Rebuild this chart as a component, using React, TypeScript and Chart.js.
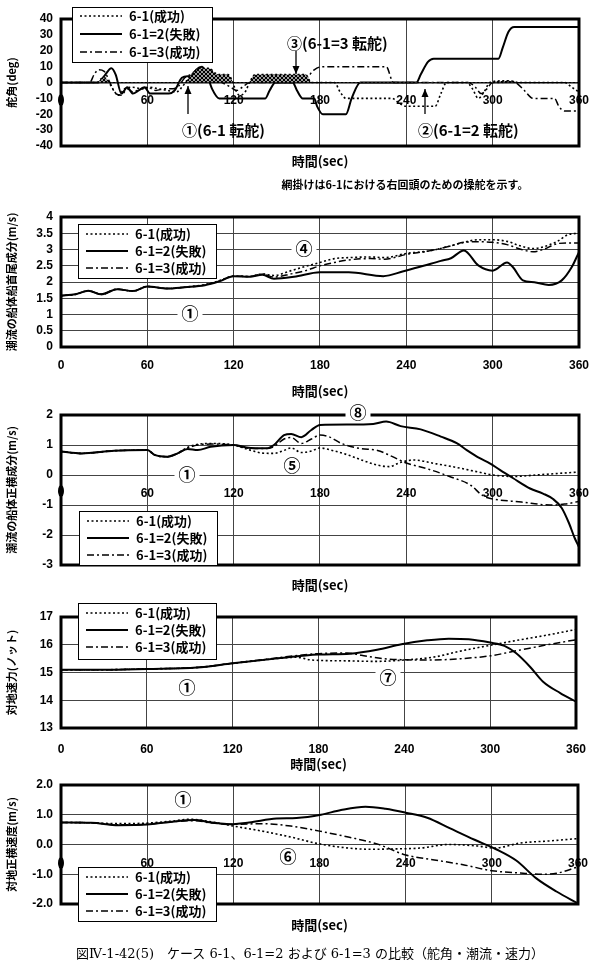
import React, { useEffect, useRef } from 'react';
import { Chart, registerables } from 'chart.js';
Chart.register(...registerables);

const LATIN = '"Liberation Sans", Arial, sans-serif';
const CJK = '"Noto Sans CJK JP", "Noto Sans", sans-serif';

// ---------- Panel 1: rudder angle (deg) ----------
const rudder61T = [0, 25, 29, 32, 36, 40, 44, 50, 56, 62, 68, 74, 80, 84, 88, 92, 96, 103, 107, 110, 116, 119, 121, 124, 128, 131, 135, 170, 174, 190, 194, 198, 230, 235, 240, 260, 264, 268, 282, 286, 290, 294, 298, 306, 312, 318, 350, 355, 360];
const rudder61V = [0, 0, 3, 2, -4, -8, -4, -3, -4, -3, -4, -5, -6, -3, 2, 6, 9, 9, 6, 5, 5, 1, -4, -8, -6, 0, 5, 5, 0, 0, -6, -10, -10, -13, -15, -15, -7, 0, 0, -4, -10, -6, 0, 1, 1, 0, 0, -3, -6];
const rudder612T = [0, 26, 30, 35, 38, 42, 46, 50, 54, 58, 62, 75, 79, 84, 88, 91, 94, 98, 101, 105, 110, 142, 145, 149, 161, 164, 168, 176, 178, 182, 198, 202, 208, 247, 250, 255, 259, 304, 307, 311, 315, 360];
const rudder612V = [0, 0, 4, 9, 5, -7, -3, -7, -5, -3, -7, -7, -5, 3, 4, 4, 8, 10, 6, -4, -10, -10, -5, 0, 0, -5, -10, -10, -15, -20, -20, -10, 0, 0, 5, 13, 15, 15, 22, 32, 35, 35];
const rudder613T = [0, 20, 23, 26, 30, 34, 38, 42, 46, 50, 55, 60, 66, 72, 78, 82, 86, 90, 95, 100, 106, 112, 118, 122, 126, 131, 168, 172, 176, 182, 226, 231, 283, 288, 292, 296, 300, 306, 312, 316, 322, 328, 343, 346, 350, 360];
const rudder613V = [0, 0, 5, 8, 7, 0, -7, -8, -4, -6, -4, -3, -5, -4, -4, -2, 3, 5, 8, 7, 3, 0, -3, -5, -3, 0, 0, 4, 8, 10, 10, 0, 0, -3, -7, -4, 0, 0, 1, 0, -5, -10, -10, -15, -18, -18];

// ---------- Panel 2: current, fore-aft component (m/s) ----------
const along612T = [0, 10, 19, 28, 39, 50, 60, 74, 86, 100, 110, 120, 131, 140, 148, 162, 180, 200, 224, 238, 252, 264, 271, 280, 290, 300, 310, 314, 321, 329, 339, 348, 355, 360];
const along612V = [1.58, 1.62, 1.73, 1.62, 1.78, 1.72, 1.86, 1.8, 1.84, 1.9, 2.02, 2.18, 2.16, 2.22, 2.1, 2.16, 2.3, 2.3, 2.18, 2.33, 2.5, 2.65, 2.73, 2.97, 2.51, 2.35, 2.6, 2.46, 2.05, 1.99, 1.91, 2.05, 2.46, 2.92];
const along61T = [0, 10, 19, 28, 39, 50, 60, 74, 86, 100, 110, 120, 131, 140, 148, 160, 170, 180, 190, 200, 215, 225, 240, 255, 270, 280, 290, 300, 310, 320, 328, 335, 345, 352, 360];
const along61V = [1.58, 1.62, 1.73, 1.62, 1.78, 1.72, 1.86, 1.8, 1.84, 1.92, 2.04, 2.18, 2.17, 2.25, 2.2, 2.35, 2.48, 2.6, 2.72, 2.75, 2.77, 2.75, 2.88, 2.95, 3.1, 3.22, 3.3, 3.3, 3.25, 3.1, 3.03, 3.08, 3.25, 3.45, 3.5];
const along613T = [0, 10, 19, 28, 39, 50, 60, 74, 86, 100, 110, 120, 131, 140, 148, 160, 170, 180, 190, 200, 215, 225, 240, 255, 270, 280, 290, 300, 310, 320, 328, 335, 345, 352, 360];
const along613V = [1.58, 1.62, 1.73, 1.62, 1.78, 1.72, 1.86, 1.8, 1.84, 1.91, 2.03, 2.18, 2.17, 2.24, 2.15, 2.25, 2.35, 2.5, 2.6, 2.68, 2.72, 2.7, 2.85, 2.95, 3.1, 3.22, 3.24, 3.22, 3.15, 3.0, 2.93, 3.0, 3.18, 3.2, 3.2];

// ---------- Panel 3: current, athwartship component (m/s) ----------
const athw612T = [0, 14, 37, 60, 65, 74, 81, 88, 95, 104, 120, 129, 143, 148, 155, 160, 167, 174, 180, 200, 217, 226, 236, 250, 264, 275, 282, 291, 298, 305, 314, 326, 335, 342, 348, 353, 357, 360];
const athw612V = [0.78, 0.72, 0.81, 0.83, 0.67, 0.61, 0.72, 0.87, 0.83, 0.94, 1.0, 0.92, 0.89, 1.0, 1.33, 1.37, 1.26, 1.5, 1.67, 1.68, 1.7, 1.78, 1.63, 1.52, 1.28, 1.06, 0.83, 0.56, 0.39, 0.17, -0.1, -0.45, -0.62, -0.8, -1.1, -1.6, -2.1, -2.4];
const athw61T = [0, 14, 37, 60, 65, 74, 81, 88, 95, 104, 120, 130, 140, 148, 155, 160, 167, 174, 180, 190, 200, 210, 220, 228, 236, 245, 260, 275, 290, 300, 315, 330, 345, 360];
const athw61V = [0.78, 0.72, 0.81, 0.83, 0.67, 0.61, 0.72, 0.92, 1.02, 1.05, 1.0, 0.85, 0.73, 0.72, 0.82, 0.9, 0.75, 0.8, 0.9, 0.8, 0.66, 0.48, 0.33, 0.28, 0.42, 0.5, 0.38, 0.25, 0.1, 0.0, -0.05, 0.0, 0.05, 0.1];
const athw613T = [0, 14, 37, 60, 65, 74, 81, 88, 95, 104, 120, 129, 143, 148, 155, 160, 167, 174, 180, 186, 195, 208, 220, 230, 240, 255, 270, 285, 292, 296, 300, 320, 340, 350, 360];
const athw613V = [0.78, 0.72, 0.81, 0.83, 0.67, 0.61, 0.72, 0.9, 1.0, 1.03, 1.0, 0.9, 0.88, 0.95, 1.2, 1.25, 1.05, 1.2, 1.33, 1.28, 1.05, 0.88, 0.82, 0.62, 0.4, 0.2, -0.05, -0.35, -0.65, -0.75, -0.8, -0.9, -1.0, -0.97, -0.88];

// ---------- Panel 4: speed over ground (knots) ----------
const sog612T = [0, 30, 60, 95, 120, 150, 180, 202, 221, 238, 256, 271, 285, 300, 310, 318, 328, 337, 349, 360];
const sog612V = [15.1, 15.1, 15.13, 15.18, 15.33, 15.5, 15.65, 15.68, 15.82, 16.02, 16.16, 16.22, 16.2, 16.08, 15.96, 15.7, 15.2, 14.67, 14.26, 13.95];
const sog61T = [0, 30, 60, 95, 120, 150, 165, 175, 200, 220, 240, 260, 280, 300, 320, 340, 360];
const sog61V = [15.1, 15.1, 15.13, 15.18, 15.33, 15.5, 15.55, 15.45, 15.42, 15.4, 15.45, 15.55, 15.78, 15.98, 16.17, 16.35, 16.55];
const sog613T = [0, 30, 60, 95, 120, 150, 180, 200, 210, 225, 240, 260, 280, 300, 320, 340, 360];
const sog613V = [15.1, 15.1, 15.13, 15.18, 15.33, 15.52, 15.68, 15.7, 15.62, 15.5, 15.46, 15.45, 15.5, 15.6, 15.8, 16.0, 16.18];

// ---------- Panel 5: athwartship velocity over ground (m/s) ----------
const lat612T = [0, 21, 40, 60, 76, 93, 105, 117, 131, 150, 164, 181, 195, 212, 226, 240, 255, 271, 288, 303, 317, 331, 345, 360];
const lat612V = [0.74, 0.73, 0.65, 0.67, 0.76, 0.82, 0.74, 0.68, 0.74, 0.87, 0.89, 1.0, 1.16, 1.27, 1.2, 1.07, 0.9, 0.54, 0.16, -0.16, -0.54, -1.14, -1.58, -1.98];
const lat61T = [0, 21, 40, 60, 76, 90, 100, 120, 140, 160, 180, 200, 215, 230, 250, 270, 290, 302, 320, 340, 360];
const lat61V = [0.74, 0.73, 0.7, 0.72, 0.78, 0.85, 0.8, 0.62, 0.45, 0.25, 0.02, -0.12, -0.16, -0.15, -0.12, 0.0, -0.05, -0.12, 0.05, 0.12, 0.2];
const lat613T = [0, 21, 40, 60, 76, 93, 105, 120, 140, 160, 180, 200, 220, 240, 260, 280, 300, 320, 335, 345, 360];
const lat613V = [0.74, 0.73, 0.66, 0.68, 0.76, 0.8, 0.72, 0.68, 0.7, 0.62, 0.45, 0.25, 0.02, -0.35, -0.52, -0.68, -0.88, -0.96, -1.0, -0.97, -0.75];

const SERIES_LABELS = ['6-1(成功)', '6-1=2(失敗)', '6-1=3(成功)'];
const X_TICKS = [0, 60, 120, 180, 240, 300, 360];

const STYLES = [
  { dash: [2, 2.5], width: 1.6 },
  { dash: [] as number[], width: 2 },
  { dash: [7, 3, 2, 3], width: 1.5 },
];

type Note = { text: string; x: number; y: number; bg?: boolean; align?: CanvasTextAlign; size?: number };
type Panel = {
  key: string;
  yTitle: string;
  yMin: number; yMax: number; yStep: number;
  yFixed?: number;
  top: number; bottom: number;
  atZero: boolean;
  tickPad: number;
  axisH?: number;
  onlyZeroGrid?: boolean;
  xTitleY: number;
  blobY?: number;
  series: { t: number[]; v: number[] }[];
  hatch?: boolean;
  legend: { x: number; y: number; w: number; h: number; rows: number[] };
  notes: Note[];
  arrows?: { x: number; y1: number; y2: number }[];
};

const PANELS: Panel[] = [
  {
    key: 'p1', yTitle: '舵角(deg)', yMin: -40, yMax: 40, yStep: 10, top: 19, bottom: 146,
    atZero: true, tickPad: 11, onlyZeroGrid: true, xTitleY: 161, blobY: 100, hatch: true,
    series: [{ t: rudder61T, v: rudder61V }, { t: rudder612T, v: rudder612V }, { t: rudder613T, v: rudder613V }],
    legend: { x: 72, y: 7, w: 140, h: 55, rows: [16, 34, 52] },
    notes: [
      { text: '③(6-1=3 転舵)', x: 287, y: 43, align: 'left', size: 15 },
      { text: '①(6-1 転舵)', x: 182, y: 130, align: 'left', size: 15 },
      { text: '②(6-1=2 転舵)', x: 418, y: 130, align: 'left', size: 15 },
    ],
    arrows: [{ x: 296, y1: 51, y2: 74 }, { x: 188, y1: 114, y2: 86 }, { x: 425, y1: 114, y2: 89 }],
  },
  {
    key: 'p2', yTitle: '潮流の船体船首尾成分(m/s)', yMin: 0, yMax: 4, yStep: 0.5, top: 217, bottom: 347,
    atZero: false, tickPad: 11, axisH: 27, xTitleY: 391,
    series: [{ t: along61T, v: along61V }, { t: along612T, v: along612V }, { t: along613T, v: along613V }],
    legend: { x: 78, y: 224, w: 138, h: 54, rows: [234, 251, 268] },
    notes: [{ text: '④', x: 304, y: 249, bg: true, size: 17 }, { text: '①', x: 190, y: 314, bg: true, size: 17 }],
  },
  {
    key: 'p3', yTitle: '潮流の船体正横成分(m/s)', yMin: -3, yMax: 2, yStep: 1, top: 415, bottom: 565,
    atZero: true, tickPad: 11, xTitleY: 585, blobY: 491,
    series: [{ t: athw61T, v: athw61V }, { t: athw612T, v: athw612V }, { t: athw613T, v: athw613V }],
    legend: { x: 79, y: 511, w: 138, h: 54, rows: [521, 538, 555] },
    notes: [
      { text: '⑧', x: 358, y: 413, bg: true, size: 17 },
      { text: '①', x: 187, y: 475, bg: true, size: 17 },
      { text: '⑤', x: 292, y: 466, size: 17 },
    ],
  },
  {
    key: 'p4', yTitle: '対地速力(ノット)', yMin: 13, yMax: 17, yStep: 1, top: 617, bottom: 728,
    atZero: false, tickPad: 14, axisH: 30, xTitleY: 764,
    series: [{ t: sog61T, v: sog61V }, { t: sog612T, v: sog612V }, { t: sog613T, v: sog613V }],
    legend: { x: 78, y: 603, w: 138, h: 56, rows: [613, 630, 647] },
    notes: [{ text: '①', x: 187, y: 688, size: 17 }, { text: '⑦', x: 388, y: 678, bg: true, size: 17 }],
  },
  {
    key: 'p5', yTitle: '対地正横速度(m/s)', yMin: -2, yMax: 2, yStep: 1, yFixed: 1, top: 785, bottom: 904,
    atZero: true, tickPad: 12, xTitleY: 925, blobY: 863,
    series: [{ t: lat61T, v: lat61V }, { t: lat612T, v: lat612V }, { t: lat613T, v: lat613V }],
    legend: { x: 78, y: 867, w: 138, h: 54, rows: [877, 894, 911] },
    notes: [{ text: '①', x: 183, y: 800, size: 17 }, { text: '⑥', x: 288, y: 857, size: 17 }],
  },
];

function hatchPattern(ctx: CanvasRenderingContext2D) {
  const c = document.createElement('canvas');
  c.width = 4; c.height = 4;
  const g = c.getContext('2d')!;
  g.fillStyle = '#9a9a9a';
  g.fillRect(0, 0, 4, 4);
  g.fillStyle = '#000';
  for (let i = 0; i < 4; i++) { g.fillRect(i, i, 1, 1); g.fillRect(3 - i, i, 1, 1); }
  return ctx.createPattern(c, 'repeat');
}

function decor(p: Panel) {
  return {
    id: 'decor_' + p.key,
    afterDraw(chart: any) {
      const c: CanvasRenderingContext2D = chart.ctx;
      const a = chart.chartArea;
      c.save();
      c.setLineDash([]);
      c.strokeStyle = '#000';
      c.lineWidth = 3;
      c.strokeRect(a.left, a.top, a.right - a.left, a.bottom - a.top);
      if (p.blobY) {
        c.beginPath();
        c.ellipse(a.left, p.blobY, 3, 6, 0, 0, Math.PI * 2);
        c.fillStyle = '#000';
        c.fill();
      }
      c.fillStyle = '#000';
      c.font = `bold 13px ${CJK}`;
      c.textAlign = 'center';
      c.textBaseline = 'middle';
      c.fillText('時間(sec)', (a.left + a.right) / 2, p.xTitleY);
      for (const ar of p.arrows || []) {
        c.lineWidth = 1.3;
        c.beginPath();
        c.moveTo(ar.x, ar.y1);
        c.lineTo(ar.x, ar.y2);
        c.stroke();
        const dir = ar.y2 > ar.y1 ? 1 : -1;
        c.beginPath();
        c.moveTo(ar.x, ar.y2);
        c.lineTo(ar.x - 3.5, ar.y2 - dir * 8);
        c.lineTo(ar.x + 3.5, ar.y2 - dir * 8);
        c.closePath();
        c.fill();
      }
      for (const n of p.notes) {
        const size = n.size || 14;
        c.font = `bold ${size}px ${CJK}`;
        c.textAlign = n.align || 'center';
        c.textBaseline = 'middle';
        if (n.bg) {
          const w = c.measureText(n.text).width + 8;
          const x0 = (n.align === 'left') ? n.x - 4 : n.x - w / 2;
          c.fillStyle = '#fff';
          c.fillRect(x0, n.y - size / 2 - 1, w, size + 2);
        }
        c.fillStyle = '#000';
        c.fillText(n.text, n.x, n.y);
      }
      const L = p.legend;
      c.fillStyle = '#fff';
      c.fillRect(L.x, L.y, L.w, L.h);
      c.lineWidth = 1;
      c.strokeStyle = '#000';
      c.strokeRect(L.x + 0.5, L.y + 0.5, L.w, L.h);
      chart.data.datasets.forEach((ds: any, i: number) => {
        const ry = L.rows[i];
        c.setLineDash(ds.borderDash || []);
        c.lineWidth = ds.borderWidth;
        c.beginPath();
        c.moveTo(L.x + 8, ry);
        c.lineTo(L.x + 50, ry);
        c.stroke();
        c.setLineDash([]);
        c.fillStyle = '#000';
        c.font = `bold 13px ${CJK}`;
        c.textAlign = 'left';
        c.textBaseline = 'middle';
        c.fillText(ds.label, L.x + 57, ry);
      });
      c.restore();
    },
  };
}

function buildConfig(p: Panel, ctx: CanvasRenderingContext2D): any {
  const pattern = p.hatch ? hatchPattern(ctx) : null;
  const datasets = p.series.map((s, i) => ({
    label: SERIES_LABELS[i],
    data: s.t.map((t, k) => ({ x: t, y: s.v[k] })),
    borderColor: '#000',
    backgroundColor: 'rgba(0,0,0,0)',
    borderWidth: STYLES[i].width,
    borderDash: STYLES[i].dash,
    pointRadius: 0,
    cubicInterpolationMode: 'monotone',
    fill: (i === 0 && pattern) ? { target: 'origin', above: pattern, below: 'rgba(0,0,0,0)' } : false,
  }));
  const H = 979;
  const padBottom = p.atZero ? H - p.bottom : H - p.bottom - (p.axisH || 0);
  const tickFont = { family: LATIN, size: 12, weight: 'bold' as const };
  return {
    type: 'line',
    data: { datasets },
    options: {
      animation: false,
      responsive: false,
      devicePixelRatio: 1,
      layout: { padding: { top: p.top, left: 0, right: 19, bottom: padBottom } },
      plugins: { legend: { display: false }, tooltip: { enabled: false } },
      scales: {
        x: {
          type: 'linear',
          min: 0, max: 360,
          position: p.atZero ? { y: 0 } : 'bottom',
          afterBuildTicks: (s: any) => { s.ticks = X_TICKS.map((v) => ({ value: v })); },
          ticks: {
            autoSkip: false, maxRotation: 0, color: '#000', font: tickFont, padding: p.tickPad,
            callback: (v: number) => (p.atZero && v === 0 ? '' : String(v)),
          },
          grid: {
            drawTicks: false, lineWidth: 1,
            color: (c: any) => (c.tick && (c.tick.value === 0 || c.tick.value === 360) ? 'rgba(0,0,0,0)' : '#444'),
          },
          border: { display: false },
          afterFit: (s: any) => { if (!p.atZero) s.height = p.axisH; },
        },
        y: {
          type: 'linear',
          min: p.yMin, max: p.yMax,
          ticks: {
            stepSize: p.yStep, autoSkip: false, color: '#000', font: tickFont, padding: 8,
            callback: (v: number) => (p.yFixed ? Number(v).toFixed(p.yFixed) : String(v)),
          },
          grid: {
            drawTicks: false,
            lineWidth: (c: any) => (p.onlyZeroGrid && c.tick && c.tick.value === 0 ? 1.5 : 1),
            color: (c: any) => {
              const v = c.tick ? c.tick.value : NaN;
              if (p.onlyZeroGrid) return v === 0 ? '#000' : 'rgba(0,0,0,0)';
              if (Math.abs(v - p.yMin) < 1e-9 || Math.abs(v - p.yMax) < 1e-9) return 'rgba(0,0,0,0)';
              return '#444';
            },
          },
          border: { display: false },
          title: {
            display: true, text: p.yTitle, color: '#000',
            font: { family: CJK, size: 11, weight: 'bold' }, padding: { top: 5, bottom: 0 },
          },
          afterFit: (s: any) => { s.width = 61; },
        },
      },
    },
    plugins: [decor(p)],
  };
}

function PanelChart({ panel }: { panel: Panel }) {
  const ref = useRef<HTMLCanvasElement>(null);
  useEffect(() => {
    const canvas = ref.current!;
    const ctx = canvas.getContext('2d')!;
    const chart = new Chart(ctx, buildConfig(panel, ctx));
    return () => chart.destroy();
  }, [panel]);
  return (
    <canvas
      ref={ref}
      width={600}
      height={979}
      style={{ position: 'absolute', left: 0, top: 0, width: 600, height: 979 }}
    />
  );
}

export default function App() {
  return (
    <div style={{ position: 'absolute', left: 0, top: 0, width: 600, height: 979, background: '#fff', overflow: 'hidden' }}>
      {PANELS.map((p) => (
        <PanelChart key={p.key} panel={p} />
      ))}
      <div
        style={{
          position: 'absolute', left: 260, top: 176, width: 290, textAlign: 'center',
          font: `bold 11px ${CJK}`, color: '#000', whiteSpace: 'nowrap',
        }}
      >
        網掛けは6-1における右回頭のための操舵を示す。
      </div>
      <div
        style={{
          position: 'absolute', left: 0, top: 943, width: 620, textAlign: 'center',
          font: `13px "DejaVu Serif", "Noto Sans CJK JP", serif`, color: '#000', whiteSpace: 'nowrap',
        }}
      >
        図Ⅳ-1-42(5)　ケース 6-1、6-1=2 および 6-1=3 の比較（舵角・潮流・速力）
      </div>
    </div>
  );
}
